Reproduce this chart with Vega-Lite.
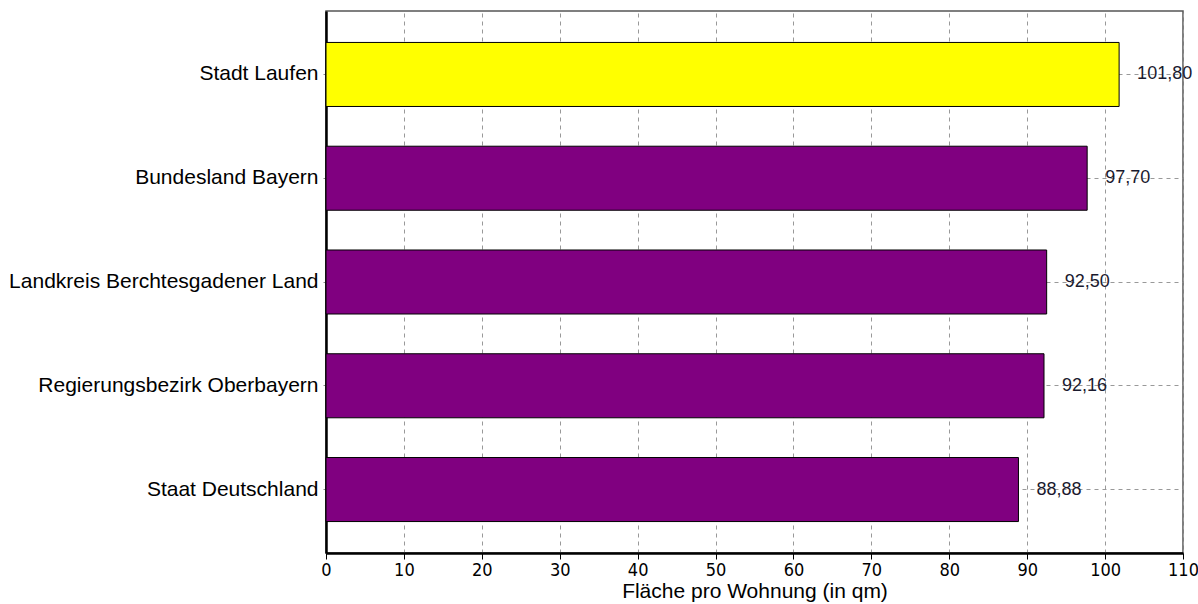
{
  "$schema": "https://vega.github.io/schema/vega-lite/v6.json",
  "width": 857,
  "height": 542,
  "autosize": {"type": "none"},
  "padding": {"left": 326, "top": 11, "right": 15, "bottom": 51},
  "background": "white",
  "config": {
    "locale": {"number": {"decimal": ",", "thousands": ".", "grouping": [3], "currency": ["", " €"]}},
    "view": {"stroke": "#555555", "strokeWidth": 1.5},
    "font": "Liberation Sans"
  },
  "data": {
    "values": [
      {"region": "Stadt Laufen", "flaeche": 101.80, "typ": "Stadt"},
      {"region": "Bundesland Bayern", "flaeche": 97.70, "typ": "Vergleich"},
      {"region": "Landkreis Berchtesgadener Land", "flaeche": 92.50, "typ": "Vergleich"},
      {"region": "Regierungsbezirk Oberbayern", "flaeche": 92.16, "typ": "Vergleich"},
      {"region": "Staat Deutschland", "flaeche": 88.88, "typ": "Vergleich"}
    ]
  },
  "encoding": {
    "y": {
      "field": "region",
      "type": "nominal",
      "sort": null,
      "scale": {"paddingInner": 0.383, "paddingOuter": 0.303},
      "axis": {
        "title": null,
        "bandPosition": 0.5,
        "grid": true,
        "gridDash": [4, 4],
        "gridColor": "#999999",
        "gridWidth": 1,
        "gridOpacity": 1,
        "domainColor": "#000000",
        "domainWidth": 2.5,
        "tickColor": "#888888",
        "tickSize": 3,
        "labelFontSize": 21,
        "labelColor": "#000000",
        "labelFont": "Liberation Sans",
        "labelPadding": 5,
        "labelLimit": 400
      }
    }
  },
  "layer": [
    {
      "mark": {"type": "bar", "stroke": "#000000", "strokeWidth": 1},
      "encoding": {
        "x": {
          "field": "flaeche",
          "type": "quantitative",
          "scale": {"domain": [0, 110], "nice": false},
          "axis": {
            "title": "Fläche pro Wohnung (in qm)",
            "titleFont": "Liberation Sans",
            "titleFontSize": 21,
            "titleFontWeight": "normal",
            "titleColor": "#000000",
            "titlePadding": 1,
            "values": [0, 10, 20, 30, 40, 50, 60, 70, 80, 90, 100, 110],
            "grid": true,
            "gridDash": [4, 4],
            "gridColor": "#999999",
            "gridWidth": 1,
            "gridOpacity": 1,
            "domainColor": "#000000",
            "domainWidth": 2.5,
            "tickColor": "#000000",
            "tickSize": 6,
            "labelFont": "DejaVu Sans Condensed, Liberation Sans, sans-serif",
            "labelFontSize": 18,
            "labelColor": "#000000",
            "labelPadding": 2,
            "labelFlush": false
          }
        },
        "color": {
          "field": "typ",
          "type": "nominal",
          "scale": {"domain": ["Stadt", "Vergleich"], "range": ["#FFFF00", "#800080"]},
          "legend": null
        }
      }
    },
    {
      "mark": {"type": "text", "align": "left", "baseline": "middle", "dx": 18, "fontSize": 18, "color": "#1a1a2e", "font": "Liberation Sans"},
      "encoding": {
        "x": {"field": "flaeche", "type": "quantitative"},
        "text": {"field": "flaeche", "type": "quantitative", "format": ".2f"}
      }
    }
  ]
}
